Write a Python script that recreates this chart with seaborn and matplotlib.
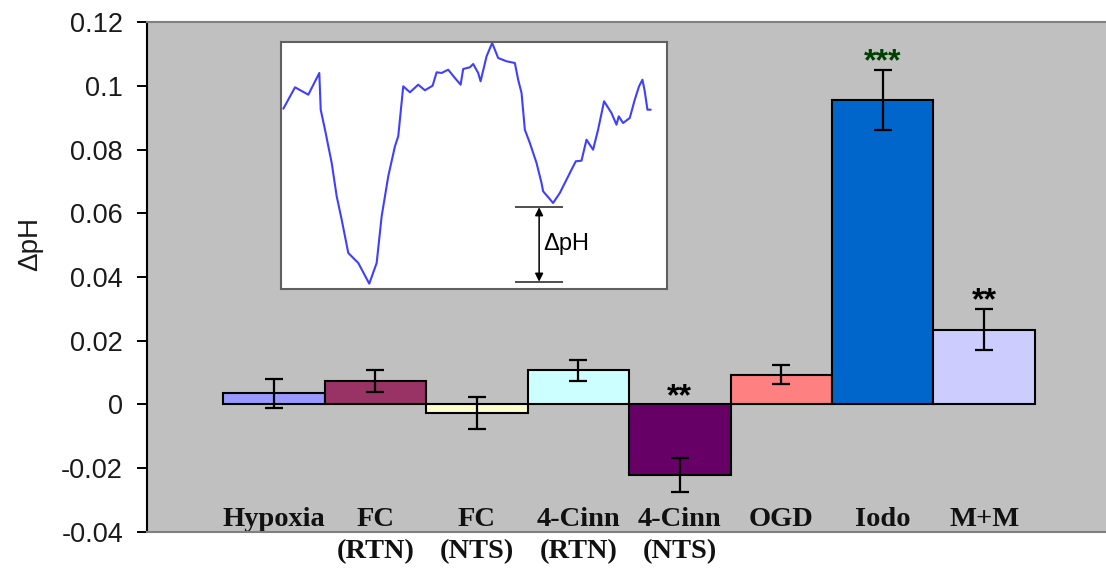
import matplotlib
matplotlib.use("Agg")
import matplotlib.pyplot as plt
import numpy as np
import pandas as pd
import seaborn as sns

# Mean change in pH for each condition, with its standard error
categories = ["Hypoxia", "FC\n(RTN)", "FC\n(NTS)", "4-Cinn\n(RTN)", "4-Cinn\n(NTS)", "OGD", "Iodo", "M+M"]
delta_ph = [0.0035, 0.0073, -0.0027, 0.0107, -0.0222, 0.0094, 0.0955, 0.0235]
sem = [0.0045, 0.0035, 0.0050, 0.0034, 0.0053, 0.0031, 0.0095, 0.0065]
significance = ["", "", "", "", "**", "", "***", "**"]

bar_colors = ["#9999FF", "#993366", "#FFFFCC", "#CCFFFF", "#660066", "#FF8080", "#0066CC", "#CCCCFF"]
star_colors = ["black", "black", "black", "black", "black", "black", "#004000", "black"]

y_ticks = [-0.04, -0.02, 0.0, 0.02, 0.04, 0.06, 0.08, 0.1, 0.12]
y_tick_labels = ["-0.04", "-0.02", "0", "0.02", "0.04", "0.06", "0.08", "0.1", "0.12"]

# Example recording used to define the pH dip (inset)
trace_t = [2.3, 14, 27.3, 38.3, 39.7, 44, 50.7, 55.7, 60.7, 67.3, 77.3, 88.3, 95.7, 100.7,
           107.3, 114, 117.3, 122.3, 129, 137.3, 144, 151.7, 155.7, 160.7, 167.3, 174,
           179.7, 182.3, 189, 192.3, 197.3, 199.7, 205.7, 211.3, 217.3, 225.7, 234, 237.3,
           240.7, 244, 249, 255.7, 260.7, 262.3, 272.3, 279, 290.7, 295, 300.7, 305.7, 309,
           312.3, 317.3, 323.3, 330.7, 335.7, 338, 342.3, 349, 354, 358.3, 361.7, 364,
           366.7, 370]
trace_v = [180.3, 201.7, 194.3, 216, 179.3, 159.3, 126, 92.7, 69.3, 36, 26, 5.3, 26, 72.7,
           112.7, 142.7, 152.7, 202.7, 196.7, 204.3, 198.7, 203.3, 216.7, 216, 219.3, 211,
           204.3, 220, 221.7, 225, 216, 207.7, 232.7, 246, 231, 227.7, 226, 209.3,
           196, 159.3, 146, 126, 106, 97.7, 86, 96, 119.3, 127.7, 128.3, 149.3, 144.3,
           139.3, 159.3, 187.7, 176, 164.3, 172.7, 166, 171, 189.3, 202.7, 209.3, 197.7,
           179.3, 179.3]
dip_top = 81.7
dip_bottom = 7.3

sns.set_theme(style="white")
plt.rcParams["font.family"] = ["Liberation Sans", "DejaVu Sans"]

fig = plt.figure(figsize=(11.06, 5.76), dpi=100)
fig.patch.set_facecolor("white")
ax = fig.add_axes([0.1329, 0.0764, 0.8671, 0.8854])
ax.set_facecolor("#C0C0C0")

df = pd.DataFrame({"condition": categories, "delta_ph": delta_ph})
sns.barplot(data=df, x="condition", y="delta_ph", hue="condition", palette=bar_colors,
            order=categories, hue_order=categories, width=1.0, saturation=1.0,
            edgecolor="black", linewidth=1.5, errorbar=None, legend=False, ax=ax, zorder=2)

xpos = np.arange(len(categories))
ax.errorbar(xpos, delta_ph, yerr=sem, fmt="none", ecolor="black", elinewidth=1.6,
            capsize=6.5, capthick=1.6, zorder=3)

for x, v, e, s, c in zip(xpos, delta_ph, sem, significance, star_colors):
    if s:
        ax.text(x, max(0.0, v + e) - 0.0002, s, ha="center", va="baseline",
                fontsize=23, fontweight="bold", color=c, zorder=4)

ax.set_xlim(-1.25, 8.2)
ax.set_ylim(-0.04, 0.12)
ax.set_yticks(y_ticks)
ax.set_yticklabels(y_tick_labels, fontsize=19.5, color="#1a1a1a")
ax.tick_params(axis="y", direction="out", length=7.2, width=1.4, color="black", pad=10, left=True)

ax.set_xticks(xpos)
ax.set_xticklabels(categories, fontfamily="Liberation Serif", fontweight="bold",
                   fontsize=20.5, linespacing=1.37, color="#111111")
ax.tick_params(axis="x", length=0, pad=-18)

ax.set_xlabel("")
ax.set_ylabel("ΔpH", fontsize=20, color="#1a1a1a")
ax.yaxis.set_label_coords(-0.108, 0.565)

ax.spines["left"].set_color("black")
ax.spines["left"].set_linewidth(1.5)
for side in ("bottom", "top"):
    ax.spines[side].set_color("#808080")
    ax.spines[side].set_linewidth(1.5)
ax.spines["right"].set_visible(False)

# Inset: sample trace showing how the dip is measured
inset = fig.add_axes([0.2541, 0.4983, 0.3490, 0.4288])
inset.set_facecolor("white")
sns.lineplot(x=trace_t, y=trace_v, ax=inset, color="#3F3FFF", linewidth=1.5, sort=False)
inset.set_xlim(0, 386.3)
inset.set_ylim(0, 247)
inset.set_xticks([])
inset.set_yticks([])
inset.set_xlabel("")
inset.set_ylabel("")
for sp in inset.spines.values():
    sp.set_color("#606060")
    sp.set_linewidth(1.5)
inset.hlines([dip_top, dip_bottom], 234, 282, color="#303030", linewidth=1.2)
inset.annotate("", xy=(258.3, dip_bottom), xytext=(258.3, dip_top),
               arrowprops=dict(arrowstyle="<|-|>", color="black", lw=1.1,
                               mutation_scale=12, shrinkA=0, shrinkB=0))
inset.text(262, (dip_top + dip_bottom) / 2, "ΔpH", ha="left", va="center",
           fontsize=17, color="black")

fig.savefig("out.png", dpi=100, facecolor="white")
